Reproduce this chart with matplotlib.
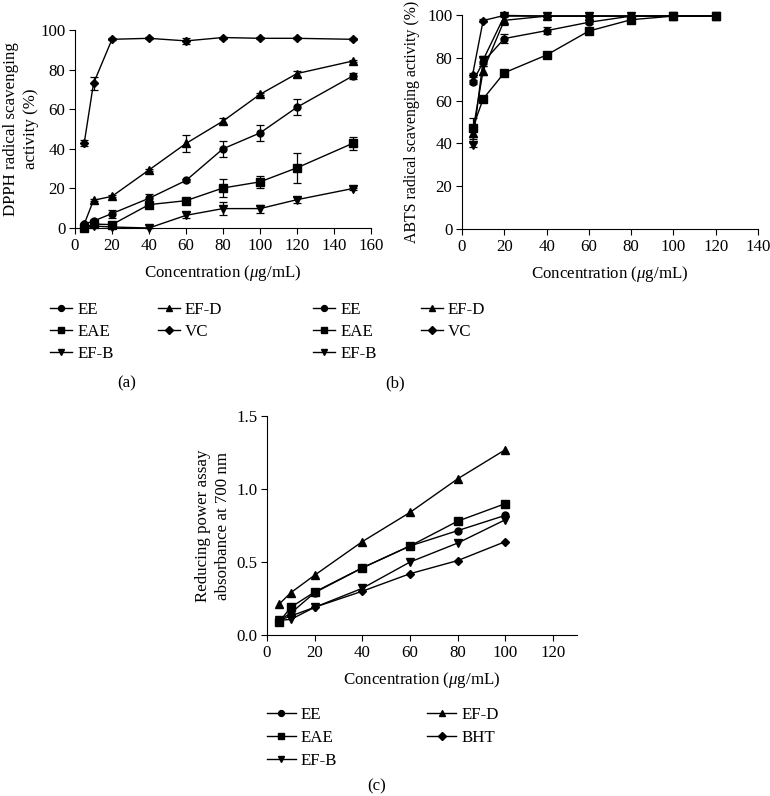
import numpy as np
import matplotlib.pyplot as plt
from matplotlib.lines import Line2D

plt.rcParams['font.family'] = ['Liberation Serif', 'DejaVu Serif']
plt.rcParams['mathtext.fontset'] = 'custom'
plt.rcParams['mathtext.it'] = 'Liberation Serif:italic'
plt.rcParams['mathtext.rm'] = 'Liberation Serif'

# ---------------------------------------------------------------------------
# Data
# ---------------------------------------------------------------------------

# (a) DPPH
dpph_conc = [5, 10, 20, 40, 60, 80, 100, 120, 150]
dpph_ee = [2, 3.5, 7.3, 15, 24, 40, 48, 61, 76.7]
dpph_ee_err = [0.5, 1, 2, 2, 1, 4, 4, 4.1, 1.5]
dpph_eae = [0, 2, 1.7, 11.8, 13.8, 20.2, 23.3, 30.4, 42.7]
dpph_eae_err = [0.5, 0.5, 0.5, 1, 1, 4.4, 3.2, 7.6, 3.2]
dpph_efb = [0, 1, 0.5, 0, 6.4, 9.8, 9.8, 14.3, 19.9]
dpph_efb_err = [0, 0.3, 0.3, 0, 1.5, 3.2, 2, 1.5, 0.5]
dpph_efd = [2, 14, 16, 29.3, 42.7, 54, 67.5, 78, 84.3]
dpph_efd_err = [0.5, 0.5, 0.5, 0.5, 4.4, 1.5, 0.5, 1.5, 0.5]
dpph_vc = [43, 73, 95.3, 95.8, 94.5, 96.2, 95.8, 95.8, 95.3]
dpph_vc_err = [1.5, 3.2, 0.5, 0.5, 1.5, 0.5, 0.5, 0.5, 0.5]

# (b) ABTS
abts_conc = [5, 10, 20, 40, 60, 80, 100, 120]
abts_ee = [68.6, 78, 89, 92.7, 96.6, 99.5, 99.5, 99.5]
abts_ee_err = [1, 2, 2, 1.5, 1, 0.5, 0.5, 0.5]
abts_eae = [47, 60.8, 73, 81.3, 92.5, 97.8, 99.5, 99.5]
abts_eae_err = [5, 0.5, 0.5, 0.5, 0.5, 0.5, 0.5, 0.5]
abts_efb = [39.3, 79, 99.5, 99.5, 99.5, 99.5, 99.5, 99.5]
abts_efb_err = [1, 2, 0.5, 0.5, 0.5, 0.5, 0.5, 0.5]
abts_efd = [45, 74, 97.5, 99.5, 99.5, 99.5, 99.5, 99.5]
abts_efd_err = [2, 2, 2, 0.5, 0.5, 0.5, 0.5, 0.5]
abts_vc = [72, 97.4, 99.8, 99.5, 99.5, 99.5, 99.5, 99.5]
abts_vc_err = [1, 0.5, 0.5, 0.5, 0.5, 0.5, 0.5, 0.5]

# (c) Reducing power
rp_conc = [5, 10, 20, 40, 60, 80, 100]
rp_ee = [0.10, 0.15, 0.29, 0.46, 0.61, 0.715, 0.82]
rp_eae = [0.087, 0.19, 0.295, 0.46, 0.61, 0.78, 0.90]
rp_efb = [0.10, 0.107, 0.19, 0.32, 0.50, 0.63, 0.79]
rp_efd = [0.21, 0.29, 0.41, 0.64, 0.84, 1.07, 1.27]
rp_bht = [0.10, 0.13, 0.19, 0.30, 0.42, 0.51, 0.64]

LABELS_AB = ["EE", "EAE", "EF-B", "EF-D", "VC"]
LABELS_C = ["EE", "EAE", "EF-B", "EF-D", "BHT"]
MARKERS = ["o", "s", "v", "^", "D"]
MSIZES = [5, 5.5, 5.5, 5.5, 4.5]

XLABEL = r"Concentration ($\mathit{\mu}$g/mL)"
FS = 12.2


def style_axes(ax):
    for s in ["top", "right"]:
        ax.spines[s].set_visible(False)
    ax.tick_params(direction="out", length=4, width=0.8, labelsize=FS,
                   pad=3)
    ax.spines["left"].set_linewidth(0.8)
    ax.spines["bottom"].set_linewidth(0.8)


def draw(ax, x, series, errs):
    for y, e, m, ms in zip(series, errs, MARKERS, MSIZES):
        if e is None:
            ax.plot(x, y, color="black", lw=1.0, marker=m, ms=ms, clip_on=False)
        else:
            ax.errorbar(x, y, yerr=e, color="black", lw=1.0, marker=m, ms=ms,
                        capsize=3, elinewidth=0.9, capthick=0.9, clip_on=False)


def add_legend(fig, labels, x0, y0, colspace, hlen=1.3, lspace=0.35):
    handles = [Line2D([], [], color="black", lw=1.0, marker=m, ms=ms * 0.85)
               for m, ms in zip(MARKERS, MSIZES)]
    fig.legend(handles, labels, loc="upper left",
               bbox_to_anchor=(x0 / 770, 1 - y0 / 796),
               ncol=2, frameon=False, fontsize=FS, handlelength=hlen,
               handletextpad=0.3, labelspacing=lspace, columnspacing=colspace,
               borderpad=0, borderaxespad=0)


fig = plt.figure(figsize=(7.7, 7.96), dpi=100)

# (a)
ax_a = fig.add_axes([75 / 770, 1 - 228 / 796, 296 / 770, 198 / 796])
draw(ax_a, dpph_conc, [dpph_ee, dpph_eae, dpph_efb, dpph_efd, dpph_vc],
     [dpph_ee_err, dpph_eae_err, dpph_efb_err, dpph_efd_err, dpph_vc_err])
ax_a.set_xlim(0, 160)
ax_a.set_ylim(0, 100)
ax_a.set_xticks(np.arange(0, 161, 20))
ax_a.set_yticks(np.arange(0, 101, 20))
ax_a.set_xlabel(XLABEL, fontsize=FS, labelpad=7)
ax_a.set_ylabel("DPPH radical scavenging\nactivity (%)", fontsize=FS,
                labelpad=1, linespacing=1.3)
style_axes(ax_a)

# (b)
ax_b = fig.add_axes([462 / 770, 1 - 229 / 796, 296 / 770, 214 / 796])
draw(ax_b, abts_conc, [abts_ee, abts_eae, abts_efb, abts_efd, abts_vc],
     [abts_ee_err, abts_eae_err, abts_efb_err, abts_efd_err, abts_vc_err])
ax_b.set_xlim(0, 140)
ax_b.set_ylim(0, 100)
ax_b.set_xticks(np.arange(0, 141, 20))
ax_b.set_yticks(np.arange(0, 101, 20))
ax_b.set_xlabel(XLABEL, fontsize=FS, labelpad=7)
ax_b.set_ylabel("ABTS radical scavenging activity (%)", fontsize=11.4,
                labelpad=5)
style_axes(ax_b)

# (c)
ax_c = fig.add_axes([267 / 770, 1 - 635 / 796, 310 / 770, 219 / 796])
draw(ax_c, rp_conc, [rp_ee, rp_eae, rp_efb, rp_efd, rp_bht],
     [None] * 5)
ax_c.set_xlim(0, 130)
ax_c.set_ylim(0, 1.5)
ax_c.set_xticks(np.arange(0, 121, 20))
ax_c.set_yticks([0.0, 0.5, 1.0, 1.5])
ax_c.set_yticklabels(["0.0", "0.5", "1.0", "1.5"])
ax_c.set_xlabel(XLABEL, fontsize=FS, labelpad=7)
ax_c.set_ylabel("Reducing power assay\nabsorbance at 700 nm", fontsize=FS,
                labelpad=4, linespacing=1.3)
style_axes(ax_c)

add_legend(fig, LABELS_AB, 50, 302, 2.6)
add_legend(fig, LABELS_AB, 313, 302, 2.6)
add_legend(fig, LABELS_C, 267, 707, 5.3, hlen=1.7, lspace=0.4)

fig.text(127 / 770, 1 - 383 / 796, "(a)", ha="center", va="center", fontsize=FS)
fig.text(395 / 770, 1 - 383 / 796, "(b)", ha="center", va="center", fontsize=FS)
fig.text(377 / 770, 1 - 786 / 796, "(c)", ha="center", va="center", fontsize=FS)

fig.savefig("out.png", dpi=100)
